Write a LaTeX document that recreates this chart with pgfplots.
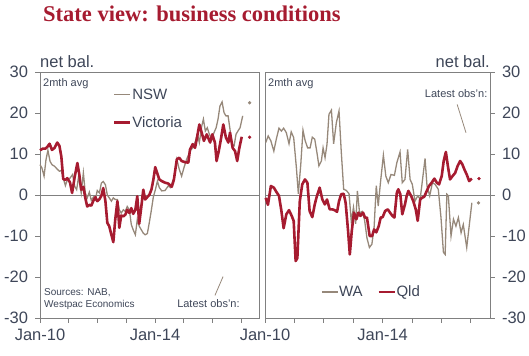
\documentclass[border=0pt]{standalone}
\usepackage{fontspec}
\setmainfont{Liberation Sans}
\newfontfamily\titlefont{Liberation Serif}
\usepackage{pgfplots}
\pgfplotsset{compat=1.18}
\definecolor{wred}{RGB}{166,27,48}
\definecolor{wgrey}{RGB}{150,136,122}
\definecolor{fgrey}{RGB}{128,128,128}
\definecolor{tcol}{RGB}{62,70,88}
\pgfplotsset{
  panel/.style={
    anchor=south west, scale only axis, height=246bp,
    xmin=0, ymin=-30, ymax=30,
    ytick={-30,-20,-10,0,10,20,30},
    xtick={0,12,24,36,48,60,72,84},
    xticklabels={Jan-10,,,,Jan-14,,,},
    axis line style={fgrey, line width=0.9bp},
    tick style={fgrey, line width=0.9bp},
    tick align=outside, major tick length=4.5bp,
    xtick pos=bottom,
    /pgf/number format/assume math mode=true,
    tick label style={font=\fontsize{16.5bp}{18bp}\selectfont, text=tcol},
    xticklabel style={yshift=-3bp},
    legend cell align=left,
    legend style={draw=none, fill=none, font=\fontsize{15bp}{17bp}\selectfont, text=tcol, inner sep=0pt,
      nodes={inner sep=0.6bp}},
    legend image code/.code={\draw[#1] (0bp,0bp) -- (16bp,0bp);},
    clip=false,
  },
  nswline/.style={wgrey, line width=1.3bp},
  vicline/.style={wred, line width=2.6bp, line join=round},
}
\begin{document}
\begin{tikzpicture}
\path[use as bounding box] (0,0) rectangle (529bp,-356bp);
\node[anchor=west, inner sep=0pt, text=wred] at (43bp,-14bp) {\titlefont\bfseries\fontsize{22.5bp}{24bp}\selectfont State view: business conditions};
% ---------------- left panel
\begin{axis}[panel, at={(40bp,-318bp)}, width=219bp, xmax=91.4,
  ytick pos=left,
  yticklabel style={xshift=-4bp},
  legend style={at={(rel axis cs:0.333,0.935)}, anchor=north west, row sep=14.5bp},
]
\draw[fgrey, line width=0.9bp] (axis cs:0,0) -- (axis cs:91.4,0);
\addplot[nswline] coordinates {
(0,7.4) (0.8,6.6) (1.7,4.6) (2.5,8.6) (3.3,10.9) (4.2,8.2) (5.0,7.4) (6.1,7.0) (7.2,6.3) (8.1,5.8)
(8.9,6) (9.7,4.1) (10.6,2.3) (11.4,3.7) (12.5,4.1) (13.6,5) (14.5,2.1) (15.3,1.3) (16.1,4.5) (17.2,0.5)
(18.1,5.4) (18.9,0.5) (19.7,-0.7) (20.6,0.7) (21.4,-1.3) (22.3,-0.5) (23.1,-1.1) (23.9,1.1) (24.8,0.5) (25.6,2.9)
(26.4,3.3) (27.3,2.5) (28.1,0) (28.9,-0.7) (29.8,-1.5) (30.6,-0.7) (31.4,-1.1) (32.3,-1.1) (33.1,-3.6) (33.9,-4.4)
(34.8,-3.6) (35.6,-4) (36.4,-2.8) (37.3,-3.6) (38.1,-7.2) (38.9,-8.5) (39.8,-9.7) (40.6,-6) (41.4,-7.6) (42.3,-8.5)
(43.1,-9.3) (43.9,-9.7) (44.8,-9.4) (45.6,-6.8) (46.5,-3.6) (47.3,-0.5) (48.2,1.4) (49.0,3.4) (49.8,1.8) (50.8,1.0)
(52.2,1.1) (53.5,2.2) (54.5,1.8) (55.9,4.2) (57.1,8.7) (58.1,6.3) (59.1,4.6) (60.1,6.7) (61.2,8.7) (62.6,10.7)
(63.7,11.5) (64.7,12.8) (65.7,14.8) (66.5,12.8) (67.5,16.8) (68.2,18.5) (69.0,15.6) (69.8,16.4) (70.7,14.8) (71.7,13.6)
(72.6,15.2) (73.5,16.4) (74.3,18.5) (75.1,21.7) (76.0,22.7) (76.8,20.1) (77.6,19.3) (78.5,19.3) (79.3,16) (80.1,12.4)
(81.0,12) (81.8,14.8) (82.6,15.6) (83.5,16.4) (84.6,19.3)
};
\addlegendentry{NSW}
\addplot[vicline] coordinates {
(0,10.9) (1.1,11.3) (2.2,11.3) (3.0,11.7) (4.0,12.5) (5.0,11) (6.1,11.5) (7.2,12.8) (8.1,12) (8.9,9.4)
(9.7,3.9) (10.6,3.7) (11.4,4.1) (12.5,3.1) (13.4,0.5) (14.5,4.5) (15.6,7.8) (16.4,5) (17.2,1.3) (18.1,2)
(18.9,-0.7) (19.7,-2.8) (20.6,-2.4) (21.4,-2.6) (22.2,-1.5) (23.1,-0.5) (23.9,-1.5) (24.7,-1.1) (25.6,-0.2) (26.4,1.7)
(27.3,-1.5) (28.1,-6.8) (28.9,-7.6) (29.8,-9.7) (30.6,-11.5) (31.4,-6) (32.3,-1.5) (33.1,-8) (33.9,-5) (34.8,-5.2)
(35.6,-4.8) (36.4,-3.6) (37.3,-4.4) (38.1,-3.2) (38.9,-4.6) (39.8,-3.6) (40.6,-0.3) (41.4,-7) (42.3,-2.8) (43.1,1.3)
(43.9,-1.1) (44.8,-0.5) (45.6,0) (46.5,1.3) (47.3,3.7) (48.1,6.8) (49.8,3.8) (50.8,3.4) (52.2,3) (53.5,2.8)
(55.0,2) (55.9,3.8) (57.1,8.7) (58.1,9.1) (59.1,8.3) (60.5,8) (61.9,7.9) (62.6,11.1) (63.7,12.4) (64.7,11.5)
(65.4,13.6) (66.5,17.2) (67.5,15.2) (68.4,13.2) (69.6,14.8) (71.0,12.8) (71.9,14.8) (73.0,12.8) (73.7,8.3) (74.6,10.7)
(75.5,13.6) (76.5,17.2) (77.6,14) (78.6,12.8) (79.3,15.2) (80.4,11.5) (81.4,10.7) (82.3,8.3) (83.2,11.5) (84.2,14.2)
};
\addlegendentry{Victoria}
\addplot[only marks, mark=*, mark size=1.5bp, wgrey, forget plot] coordinates {(87.5,22.5)};
\addplot[only marks, mark=*, mark size=1.5bp, wred, forget plot] coordinates {(87.5,14.1)};
\node[anchor=south west, inner sep=0pt, text=tcol, font=\fontsize{16.5bp}{18bp}\selectfont] at (rel axis cs:0,1) [yshift=4bp] {net bal.};
\node[anchor=north west, inner sep=0pt, text=tcol, font=\fontsize{11bp}{12bp}\selectfont] at (rel axis cs:0,1) [xshift=3bp, yshift=-6bp] {2mth avg};
\node[anchor=south west, inner sep=0pt, text=tcol, align=left, font=\fontsize{10bp}{12bp}\selectfont] at (rel axis cs:0,0) [xshift=4bp, yshift=8bp] {Sources: NAB,\\Westpac Economics};
\node[anchor=center, inner sep=0pt, text=tcol, font=\fontsize{11bp}{12bp}\selectfont] at (axis cs:70.3,-26.5) {Latest obs'n:};
\draw[wgrey, line width=0.8bp] (axis cs:76.4,-19.9) -- (axis cs:73.0,-24.5);
\end{axis}
% ---------------- right panel
\begin{axis}[panel, at={(265bp,-318bp)}, width=225bp, xmax=91.8,
  ytick pos=right, yticklabel pos=right,
  yticklabel style={xshift=4bp},
  legend columns=2,
  legend style={at={(rel axis cs:0.249,0.106)}, anchor=west, /tikz/every even column/.append style={column sep=14bp}},
]
\draw[fgrey, line width=0.9bp] (axis cs:0,0) -- (axis cs:91.8,0);
\addplot[nswline] coordinates {
(0.3,12.8) (1.3,14.4) (2.4,13.2) (3.6,10.7) (4.6,13.6) (5.7,16.3) (6.7,15.6) (7.6,16.3) (8.7,15.2) (9.8,12.5)
(10.7,15.4) (11.7,14) (12.8,6.7) (13.6,0.3) (14.6,7.5) (15.5,15.8) (16.4,13.2) (17.4,11.5) (18.4,11.5) (19.3,14.1)
(20.3,13.6) (21.2,10.3) (22.0,7.1) (23.0,8.3) (23.7,11.5) (24.5,9.1) (25.3,12.4) (26.1,19.7) (27.1,20.7) (28.0,12.5)
(29.1,17.6) (30.2,20.5) (31.1,10.7) (32.1,1.4) (33.2,1.1) (34.3,0.3) (35.2,-6.5) (36.1,-3) (37.0,-7) (37.7,1)
(38.6,-4.5) (39.6,-4) (40.6,-6) (41.6,-10.5) (42.6,-12.8) (43.6,-12) (44.5,-8) (45.4,2.3) (46.2,-2.7) (47.1,3)
(48.3,9.7) (49.3,4.6) (50.3,3) (51.4,5) (52.8,4.8) (53.8,7.9) (55.1,10.5) (56.0,3) (57.1,3.8) (58.2,11.1)
(59.2,3.8) (60.1,2.6) (61.2,-1.5) (62.3,-0.2) (63.3,-1) (64.2,3.4) (65.3,8.9) (66.1,2.2) (67.2,-0.2) (68.3,3)
(69.4,2.6) (70.7,1.4) (71.8,-5.5) (72.8,-14) (73.5,-14.5) (74.2,0.2) (74.8,-0.2) (75.9,-10) (76.9,-5.9) (77.9,-7.6)
(78.9,-5.5) (80.0,-9.2) (80.9,-7.2) (82.3,-12.8) (83.3,-7.6) (84.4,-1.9)
};
\addlegendentry{WA}
\addplot[vicline] coordinates {
(0.3,-0.7) (1.2,-2.4) (2.4,2.2) (3.6,1.8) (4.6,0.8) (5.7,-0.2) (6.7,-3.9) (7.6,-8.1) (8.7,-4.7) (9.8,-3.7)
(10.9,-5.1) (11.7,-6.3) (12.5,-16.1) (13.2,-15.4) (14.2,-1.5) (15.2,2.6) (16.3,3.8) (17.3,3) (18.2,-3.9) (19.3,-5.4)
(20.3,-2.3) (21.2,-0.2) (22.3,1.8) (23.4,-1.1) (24.4,-2.3) (25.3,-1.1) (26.4,-3.5) (27.5,-3.5) (28.4,-3.7) (29.4,-4.1)
(30.2,-1.5) (31.1,0.2) (32.1,0.3) (32.9,-1.9) (33.9,-8.8) (34.6,-14.5) (35.4,-8.8) (36.3,-4.3) (37.3,-5.9) (38.1,-4.3)
(38.9,-5.1) (40.0,-4.3) (40.8,-5.5) (41.6,-5.5) (42.7,-10) (43.7,-10) (44.5,-8.4) (45.4,-9.1) (46.4,-7.6) (47.2,-5.5)
(48.0,-5.4) (49.0,-3.9) (50.1,-3.5) (51.0,-4.3) (52.0,-5.1) (52.8,-5.5) (53.8,0.6) (54.4,1.4) (55.2,0.2) (56.0,-4.7)
(57.1,-2.3) (57.8,-0.2) (58.5,1) (59.6,-0.2) (60.5,-1.5) (61.5,-3.5) (62.3,-6.3) (63.3,-1.1) (64.0,-0.7) (65.0,-0.4)
(66.0,1) (66.9,2.2) (68.0,3) (69.1,4) (70.1,3) (71.0,2.6) (72.1,4.6) (72.9,8.3) (73.8,10.5) (74.6,7.1)
(75.5,3.8) (76.5,4.6) (77.6,5.4) (78.6,7.1) (79.6,8.3) (80.5,7.5) (81.3,6.3) (82.3,5) (83.3,3.4) (84.4,4)
};
\addlegendentry{Qld}
\addplot[only marks, mark=*, mark size=1.5bp, wgrey, forget plot] coordinates {(87.1,-1.9)};
\addplot[only marks, mark=*, mark size=1.5bp, wred, forget plot] coordinates {(87.3,4)};
\node[anchor=south east, inner sep=0pt, text=tcol, font=\fontsize{16.5bp}{18bp}\selectfont] at (rel axis cs:1,1) [yshift=4bp] {net bal.};
\node[anchor=north west, inner sep=0pt, text=tcol, font=\fontsize{11bp}{12bp}\selectfont] at (rel axis cs:0,1) [xshift=3bp, yshift=-6bp] {2mth avg};
\node[anchor=center, inner sep=0pt, text=tcol, font=\fontsize{11bp}{12bp}\selectfont] at (axis cs:78.0,24.8) {Latest obs'n:};
\draw[wgrey, line width=0.8bp] (axis cs:78.4,22.1) -- (axis cs:82.0,15.2);
\end{axis}
\end{tikzpicture}
\end{document}
